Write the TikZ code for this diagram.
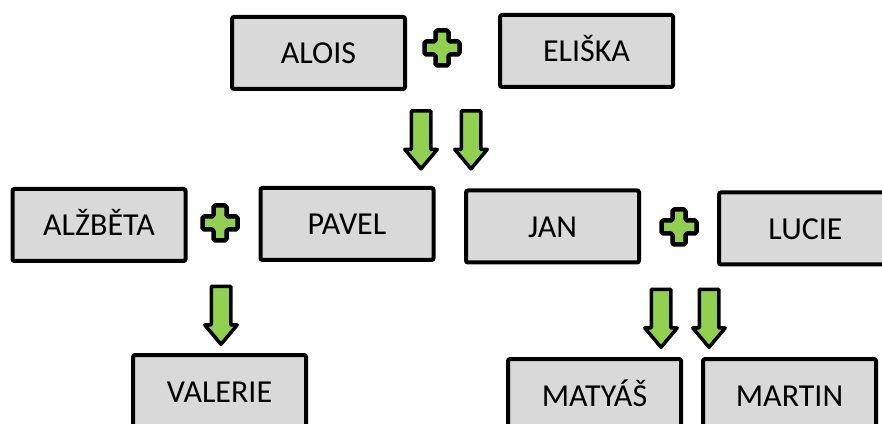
\documentclass[tikz,border=0pt]{standalone}
\usepackage{fontspec}
\setmainfont{Carlito}
\usetikzlibrary{shapes.arrows}
\definecolor{boxgray}{HTML}{D9D9D9}
\definecolor{plusgreen}{HTML}{92D050}
\begin{document}
\begin{tikzpicture}[x=1pt,y=1pt]
\tikzset{person/.style={draw=black, fill=boxgray, line width=4pt, rounded corners=2pt,
  minimum width=173pt, minimum height=72pt, text height=22pt, text depth=0pt,
  font=\fontsize{32}{32}\selectfont}}
\tikzset{childarrow/.style={single arrow, draw=black, fill=plusgreen, line width=3.5pt,
  line join=round, rotate=-90, minimum height=58pt, inner sep=8pt,
  single arrow head extend=6.5pt, single arrow tip angle=80}}
\tikzset{plussign/.pic={
  \path[draw=black, fill=plusgreen, line width=4.5pt, line join=round, rounded corners=1.5pt]
    (-6.5,-17.5) -- (6.5,-17.5) -- (6.5,-6.5) -- (17.5,-6.5) -- (17.5,6.5) -- (6.5,6.5)
    -- (6.5,17.5) -- (-6.5,17.5) -- (-6.5,6.5) -- (-17.5,6.5) -- (-17.5,-6.5)
    -- (-6.5,-6.5) -- cycle;
}}
\useasboundingbox (0,0) rectangle (882,423);
\clip (0,0) rectangle (882,423);
% grandparents
\node[person] (alois) at (318.5,370) {ALOIS};
\node[person] (eliska) at (586.5,372) {ELIŠKA};
\pic at (442,375) {plussign};
\node[childarrow] (arrA) at (421,289) {};
\node[childarrow] (arrB) at (471,289) {};
% children and partners
\node[person] (alzbeta) at (99,198) {ALŽBĚTA};
\node[person] (pavel) at (347,199) {PAVEL};
\pic at (220,200) {plussign};
\node[person] (jan) at (552.5,196.5) {JAN};
\node[person] (lucie) at (805.5,194.5) {LUCIE};
\pic at (679,196) {plussign};
\node[childarrow] (arrC) at (221,113.5) {};
\node[childarrow] (arrD) at (661,110.5) {};
\node[childarrow] (arrE) at (709,110.5) {};
% grandchildren
\node[person] (valerie) at (219.5,32) {VALERIE};
\node[person] (matyas) at (594.5,28) {MATYÁŠ};
\node[person] (martin) at (789.5,28) {MARTIN};
\end{tikzpicture}
\end{document}
